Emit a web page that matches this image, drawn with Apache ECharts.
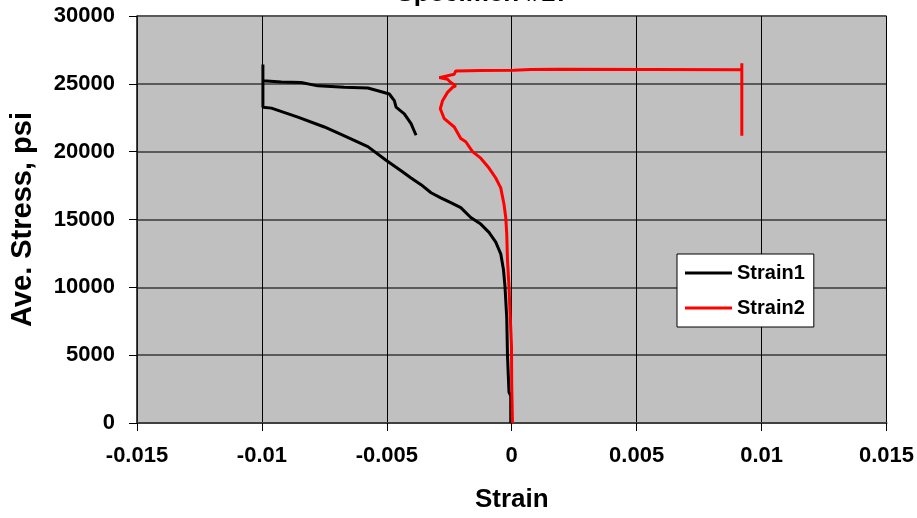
<!DOCTYPE html>
<html>
<head>
<meta charset="utf-8">
<script src="https://cdn.jsdelivr.net/npm/echarts@6/dist/echarts.min.js"></script>
<style>html,body{margin:0;padding:0;background:#fff;}#c{width:917px;height:518px;}</style>
</head>
<body>
<div id="c"></div>
<script>
var titleText = 'Specimen #17';
var xTicks = [-0.015, -0.01, -0.005, 0, 0.005, 0.01, 0.015];
var yTicks = [0, 5000, 10000, 15000, 20000, 25000, 30000];
var strain1 = [
  [-0.00004, 0], [-0.00004, 2000], [-0.00011, 2280], [-0.00017, 4950], [-0.0002, 7740],
  [-0.00027, 10050], [-0.00033, 11290], [-0.00044, 12470], [-0.00064, 13330], [-0.00091, 14050],
  [-0.00124, 14660], [-0.00164, 15150], [-0.00204, 15870], [-0.00244, 16240], [-0.00284, 16600],
  [-0.00323, 16970], [-0.00363, 17570], [-0.00403, 18060], [-0.00443, 18590], [-0.00503, 19370],
  [-0.00576, 20370], [-0.0067, 21170], [-0.0075, 21820], [-0.00856, 22550], [-0.00962, 23210],
  [-0.00996, 23280], [-0.00996, 26430], [-0.00996, 25220], [-0.00922, 25140], [-0.00843, 25100],
  [-0.00776, 24850], [-0.0067, 24740], [-0.00576, 24690], [-0.00536, 24490], [-0.0049, 24250],
  [-0.0047, 23760], [-0.00463, 23280], [-0.0043, 22790], [-0.00403, 22060], [-0.00383, 21210]
];
var strain2 = [
  [0.00003, 0], [0.0, 2770], [-0.00001, 5680], [-0.00006, 7860], [-0.00011, 10050],
  [-0.00017, 11990], [-0.0002, 13930], [-0.00024, 15150], [-0.00031, 16120], [-0.00044, 17330],
  [-0.00064, 18060], [-0.00091, 18790], [-0.00124, 19520], [-0.00157, 20000], [-0.00184, 20730],
  [-0.00204, 20970], [-0.0023, 21820], [-0.0027, 22430], [-0.00286, 23160], [-0.00277, 23760],
  [-0.00257, 24370], [-0.00237, 24740], [-0.00224, 24850], [-0.00244, 25100], [-0.00257, 25340],
  [-0.0029, 25460], [-0.0023, 25710], [-0.00224, 25950], [-0.00124, 25990], [0.00009, 26000],
  [0.00076, 26060], [0.00189, 26080], [0.00921, 26030], [0.00921, 26510], [0.00921, 21170]
];

var FONT = '"Liberation Sans", Arial, sans-serif';
var chart = echarts.init(document.getElementById('c'));
chart.setOption({
  animation: false,
  backgroundColor: '#ffffff',
  title: {
    text: titleText, left: 478, top: -24, textAlign: 'center',
    textStyle: {fontFamily: FONT, fontWeight: 'bold', fontSize: 26, color: '#000'}
  },
  grid: {
    left: 136, right: 30, top: 16, bottom: 90,
    show: true, backgroundColor: '#c0c0c0', borderColor: '#707070', borderWidth: 1
  },
  legend: {
    left: 677, top: 254, orient: 'vertical',
    backgroundColor: '#ffffff', borderColor: '#000', borderWidth: 1,
    padding: [9, 9, 9, 8], itemGap: 15, itemWidth: 47, itemHeight: 3,
    icon: 'rect',
    textStyle: {fontFamily: FONT, fontWeight: 'bold', fontSize: 20, color: '#000'},
    data: ['Strain1', 'Strain2']
  },
  xAxis: {
    type: 'value', min: xTicks[0], max: xTicks[xTicks.length - 1], interval: 0.005,
    name: 'Strain', nameLocation: 'middle', nameGap: 64,
    nameTextStyle: {fontFamily: FONT, fontWeight: 'bold', fontSize: 26, color: '#000'},
    axisLine: {show: true, onZero: false, lineStyle: {color: '#404040', width: 2}},
    axisTick: {show: true, length: 8, lineStyle: {color: '#000', width: 1}},
    axisLabel: {margin: 22, fontFamily: FONT, fontWeight: 'bold', fontSize: 22, color: '#000',
      formatter: function (v) { return String(+v.toFixed(4)); }},
    splitLine: {show: true, lineStyle: {color: '#000', width: 1}}
  },
  yAxis: {
    type: 'value', min: yTicks[0], max: yTicks[yTicks.length - 1], interval: 5000,
    name: 'Ave. Stress, psi', nameLocation: 'middle', nameGap: 100,
    nameTextStyle: {fontFamily: FONT, fontWeight: 'bold', fontSize: 29, color: '#000'},
    axisLine: {show: true, onZero: false, lineStyle: {color: '#202020', width: 1.5}},
    axisTick: {show: true, length: 8, lineStyle: {color: '#000', width: 1}},
    axisLabel: {margin: 22, fontFamily: FONT, fontWeight: 'bold', fontSize: 22, color: '#000',
      formatter: function (v) { return String(v); }},
    splitLine: {show: true, lineStyle: {color: '#5a5a5a', width: 2}}
  },
  series: [
    {name: 'Strain1', type: 'line', data: strain1, showSymbol: false, symbol: 'none',
      lineStyle: {color: '#000000', width: 3}, itemStyle: {color: '#000000'}},
    {name: 'Strain2', type: 'line', data: strain2, showSymbol: false, symbol: 'none',
      lineStyle: {color: '#ff0000', width: 3}, itemStyle: {color: '#ff0000'}}
  ]
});
</script>
</body>
</html>
